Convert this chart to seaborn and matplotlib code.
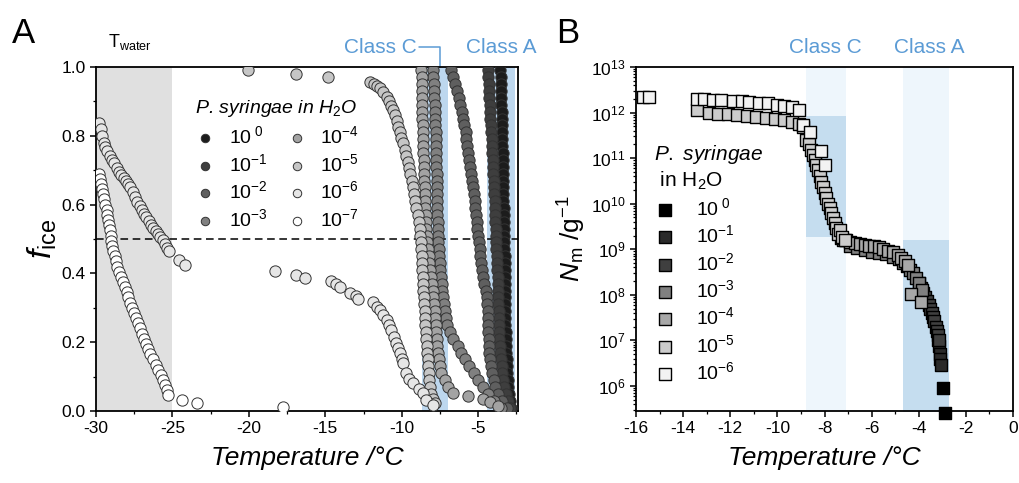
import matplotlib
matplotlib.use("Agg")
import matplotlib.pyplot as plt
import seaborn as sns
from matplotlib.ticker import MultipleLocator, LogLocator, LogFormatterMathtext, NullFormatter

sns.set_style("ticks")
plt.rcParams['font.family'] = ['Liberation Sans', 'DejaVu Sans']
plt.rcParams['mathtext.fontset'] = 'custom'
plt.rcParams['mathtext.rm'] = 'Liberation Sans'
plt.rcParams['mathtext.it'] = 'Liberation Sans:italic'
plt.rcParams['mathtext.bf'] = 'Liberation Sans:bold'
plt.rcParams['axes.unicode_minus'] = False
plt.rcParams['text.color'] = 'black'
plt.rcParams['axes.labelcolor'] = 'black'
plt.rcParams['xtick.color'] = 'black'
plt.rcParams['ytick.color'] = 'black'

# ---------------- panel A data: frozen fraction vs temperature ----------------
F_GRID = [0.99, 0.97, 0.95, 0.93, 0.91, 0.89, 0.87, 0.85, 0.83, 0.81,
          0.79, 0.77, 0.75, 0.73, 0.71, 0.69, 0.67, 0.65, 0.63, 0.61,
          0.59, 0.57, 0.55, 0.53, 0.51, 0.49, 0.47, 0.45, 0.43, 0.41,
          0.39, 0.37, 0.35, 0.33, 0.31, 0.29, 0.27, 0.25, 0.23, 0.21,
          0.19, 0.17, 0.15, 0.13, 0.11, 0.09, 0.07, 0.05, 0.03, 0.01]

T_A_0 = [-3.55, -3.54, -3.52, -3.51, -3.49, -3.48, -3.46, -3.45, -3.44, -3.43,
         -3.42, -3.42, -3.41, -3.40, -3.39, -3.38, -3.38, -3.37, -3.36, -3.35,
         -3.34, -3.33, -3.32, -3.31, -3.30, -3.30, -3.29, -3.28, -3.28, -3.27,
         -3.26, -3.26, -3.25, -3.25, -3.24, -3.24, -3.23, -3.22, -3.21, -3.20,
         -3.19, -3.17, -3.15, -3.13, -3.11, -3.08, -3.05, -3.00, -2.93, -2.83]
F_A_0 = F_GRID

T_A_1 = [-4.35, -4.33, -4.31, -4.29, -4.27, -4.25, -4.23, -4.20, -4.18, -4.15,
         -4.13, -4.11, -4.09, -4.06, -4.04, -4.01, -3.99, -3.97, -3.95, -3.93,
         -3.92, -3.90, -3.89, -3.87, -3.86, -3.84, -3.81, -3.79, -3.77, -3.75,
         -3.73, -3.71, -3.70, -3.69, -3.68, -3.66, -3.65, -3.64, -3.62, -3.61,
         -3.59, -3.55, -3.51, -3.47, -3.42, -3.37, -3.30, -3.20, -3.06, -2.90]
F_A_1 = F_GRID

T_A_2 = [-6.75, -6.62, -6.50, -6.38, -6.27, -6.17, -6.07, -5.98, -5.90, -5.83,
         -5.77, -5.72, -5.67, -5.62, -5.55, -5.47, -5.40, -5.34, -5.28, -5.23,
         -5.18, -5.14, -5.10, -5.05, -5.01, -4.96, -4.91, -4.86, -4.80, -4.74,
         -4.67, -4.60, -4.52, -4.45, -4.42, -4.39, -4.37, -4.35, -4.33, -4.31,
         -4.29, -4.27, -4.24, -4.18, -4.10, -4.00, -3.88, -3.70, -3.45, -3.10]
F_A_2 = F_GRID

T_A_3 = [-7.95, -7.93, -7.91, -7.89, -7.87, -7.85, -7.83, -7.82, -7.80, -7.79,
         -7.78, -7.77, -7.76, -7.75, -7.74, -7.73, -7.72, -7.71, -7.70, -7.69,
         -7.68, -7.67, -7.66, -7.65, -7.64, -7.62, -7.59, -7.55, -7.51, -7.47,
         -7.43, -7.39, -7.35, -7.30, -7.25, -7.19, -7.12, -7.02, -6.85, -6.62,
         -6.35, -6.12, -5.88, -5.60, -5.30, -5.01, -4.72, -4.35, -3.95, -3.50]
F_A_3 = F_GRID

T_A_4 = [-8.72, -8.71, -8.70, -8.69, -8.68, -8.67, -8.66, -8.65, -8.64, -8.63,
         -8.62, -8.61, -8.60, -8.58, -8.57, -8.55, -8.53, -8.51, -8.49, -8.47,
         -8.45, -8.43, -8.41, -8.39, -8.36, -8.33, -8.29, -8.24, -8.19, -8.14,
         -8.09, -8.03, -7.97, -7.93, -7.89, -7.85, -7.82, -7.79, -7.75, -7.72,
         -7.68, -7.63, -7.57, -7.50, -7.43,
         -7.20, -6.95, -6.64, -5.67, -4.69, -4.25, -3.70]
F_A_4 = F_GRID[:45] + [0.090, 0.070, 0.051, 0.044, 0.034, 0.027, 0.015]

T_A_5 = [-20.07, -16.90, -14.84, -12.10, -11.85, -11.60, -11.40, -11.20, -11.00, -10.85,
         -10.70, -10.57, -10.45, -10.34, -10.24, -10.12, -10.02, -9.92, -9.82, -9.72,
         -9.62, -9.53, -9.44, -9.35, -9.27, -9.19, -9.11, -9.04, -8.97, -8.90,
         -8.84, -8.79, -8.76, -8.73, -8.71, -8.68, -8.66, -8.64, -8.62, -8.60,
         -8.57, -8.54, -8.51, -8.48, -8.45, -8.42, -8.39, -8.36, -8.33, -8.30,
         -8.27, -8.24, -8.21, -8.17, -8.10, -7.98, -7.84]
F_A_5 = [0.990, 0.980, 0.970, 0.957, 0.952, 0.946, 0.938, 0.928, 0.914, 0.900,
         0.887, 0.875, 0.860, 0.843, 0.826, 0.810, 0.794, 0.778, 0.760, 0.742,
         0.724, 0.706, 0.688, 0.670, 0.650, 0.630, 0.610, 0.590, 0.570, 0.550,
         0.530, 0.510, 0.490, 0.470, 0.450, 0.430, 0.410, 0.390, 0.370, 0.350,
         0.330, 0.310, 0.290, 0.270, 0.250, 0.230, 0.210, 0.190, 0.170, 0.150,
         0.130, 0.110, 0.090, 0.070, 0.050, 0.035, 0.023]

T_A_6 = [-29.78, -29.70, -29.60, -29.50, -29.38, -29.25, -29.10, -28.95, -28.80, -28.65,
         -28.50, -28.35, -28.20, -28.05, -27.90, -27.75, -27.60, -27.45, -27.30, -27.15,
         -27.00, -26.85, -26.70, -26.55, -26.40, -26.25, -26.10, -25.95, -25.80, -25.65,
         -25.50, -25.35, -25.25, -24.55, -24.20, -18.30, -16.90, -16.35, -14.60, -14.30,
         -14.05, -13.40, -13.00, -12.85, -11.87, -11.60, -11.44, -11.20, -11.00, -10.85,
         -10.68, -10.50, -10.35, -10.25, -10.13, -10.00, -9.90, -9.70, -9.50, -9.26,
         -8.90, -8.60, -8.39, -7.95]
F_A_6 = [0.836, 0.820, 0.800, 0.778, 0.766, 0.755, 0.740, 0.730, 0.720, 0.706,
         0.695, 0.686, 0.678, 0.668, 0.659, 0.650, 0.637, 0.622, 0.608, 0.596,
         0.585, 0.574, 0.563, 0.552, 0.541, 0.532, 0.522, 0.514, 0.506, 0.497,
         0.486, 0.474, 0.466, 0.439, 0.424, 0.408, 0.395, 0.388, 0.378, 0.370,
         0.361, 0.344, 0.333, 0.326, 0.316, 0.303, 0.294, 0.280, 0.265, 0.250,
         0.235, 0.215, 0.197, 0.183, 0.168, 0.152, 0.139, 0.110, 0.094, 0.080,
         0.064, 0.051, 0.032, 0.017]

T_A_7 = [-29.78, -29.72, -29.65, -29.58, -29.52, -29.46, -29.39, -29.31, -29.25, -29.20,
         -29.15, -29.10, -29.05, -29.00, -28.93, -28.86, -28.79, -28.72, -28.65, -28.50,
         -28.38, -28.24, -28.12, -28.00, -27.90, -27.80, -27.66, -27.52, -27.38, -27.25,
         -27.12, -26.98, -26.84, -26.70, -26.57, -26.44, -26.28, -26.10, -25.93, -25.78,
         -25.62, -25.47, -25.35, -25.27, -24.36, -23.42, -17.76]
F_A_7 = [0.690, 0.675, 0.660, 0.645, 0.630, 0.615, 0.600, 0.585, 0.570, 0.555,
         0.540, 0.525, 0.510, 0.495, 0.480, 0.465, 0.450, 0.435, 0.420, 0.405,
         0.390, 0.375, 0.360, 0.345, 0.330, 0.315, 0.300, 0.285, 0.270, 0.255,
         0.240, 0.225, 0.210, 0.195, 0.180, 0.165, 0.150, 0.135, 0.120, 0.105,
         0.090, 0.075, 0.060, 0.047, 0.032, 0.022, 0.012]

LABELS_A = [r"10$^{\ 0}$", r"10$^{-1}$", r"10$^{-2}$", r"10$^{-3}$",
            r"10$^{-4}$", r"10$^{-5}$", r"10$^{-6}$", r"10$^{-7}$"]
COLORS_A = ["#1c1c1c", "#3e3e3e", "#5f5f5f", "#808080",
            "#a3a3a3", "#c6c6c6", "#e6e6e6", "#ffffff"]

# ---------------- panel B data: INP spectra ----------------
T_B_0 = [-2.98, -2.88]
N_B_0 = [9.0e5, 2.6e5]
T_B_1 = [-3.20, -3.15, -3.11, -3.08, -3.05]
N_B_1 = [1.0e7, 7.4e6, 5.0e6, 4.0e6, 2.9e6]
T_B_2 = [-4.00, -3.90, -3.80, -3.72, -3.65, -3.58, -3.51, -3.45, -3.40, -3.34,
         -3.28, -3.23, -3.19, -3.14]
N_B_2 = [1.8e8, 1.4e8, 1.1e8, 8.9e7, 7.2e7, 5.9e7, 5.0e7, 4.0e7, 3.3e7, 2.6e7,
         2.0e7, 1.6e7, 1.3e7, 1.0e7]
T_B_3 = [-7.20, -6.90, -6.60, -6.30, -6.00, -5.70, -5.40, -5.10, -4.85, -4.67,
         -4.50, -4.39, -4.25, -4.10, -3.97, -3.85]
N_B_3 = [1.6e9, 1.2e9, 1.05e9, 9.5e8, 8.9e8, 8.3e8, 7.8e8, 6.9e8, 6.0e8, 4.9e8,
         4.2e8, 3.5e8, 3.0e8, 2.3e8, 1.8e8, 1.3e8]
T_B_4 = [-7.30, -7.10, -6.90, -6.70, -6.50, -6.30, -6.10, -5.90, -5.70, -5.50,
         -5.30, -5.10, -4.90, -4.75, -4.60, -4.45, -4.32, -3.90]
N_B_4 = [1.8e9, 1.6e9, 1.45e9, 1.35e9, 1.3e9, 1.25e9, 1.2e9, 1.15e9, 1.1e9, 1.0e9,
         9.2e8, 8.5e8, 7.5e8, 6.5e8, 5.5e8, 4.5e8, 1.05e8, 7.0e7]
T_B_5 = [-13.40, -12.90, -12.50, -12.10, -11.70, -11.30, -10.90, -10.50, -10.10, -9.70,
         -9.40, -9.10, -8.90, -8.77, -8.65, -8.56, -8.48, -8.42, -8.34, -8.27,
         -8.20, -8.13, -8.06, -7.99, -7.92, -7.85, -7.78, -7.71, -7.64, -7.57,
         -7.50, -7.43, -7.36, -7.25, -7.14]
N_B_5 = [1.15e12, 1.0e12, 9.5e11, 9.1e11, 8.7e11, 8.3e11, 7.9e11, 7.6e11, 7.2e11, 6.8e11,
         6.3e11, 5.6e11, 4.8e11, 2.5e11, 2.0e11, 1.5e11, 1.2e11, 9.1e10, 7.1e10, 5.5e10,
         4.1e10, 3.0e10, 2.3e10, 1.7e10, 1.3e10, 1.0e10, 7.9e9, 6.2e9, 4.8e9, 3.7e9,
         2.9e9, 2.2e9, 2.7e9, 1.9e9, 1.6e9]
T_B_6 = [-15.70, -15.45, -13.40, -13.10, -12.75, -12.40, -11.90, -11.50, -11.20, -10.80,
         -10.40, -10.00, -9.70, -9.40, -9.10, -8.92, -8.63, -8.13, -7.99]
N_B_6 = [2.2e12, 2.2e12, 2.0e12, 1.95e12, 1.9e12, 1.85e12, 1.8e12, 1.75e12, 1.7e12, 1.65e12,
         1.6e12, 1.5e12, 1.4e12, 1.3e12, 1.15e12, 5.4e11, 3.8e11, 1.4e11, 7.0e10]

LABELS_B = LABELS_A[:7]
COLORS_B = ["#000000", "#2a2a2a", "#3f3f3f", "#808080", "#a8a8a8", "#cccccc", "#f2f2f2"]

# shaded temperature ranges
T_WATER = (-30, -25)
CLASS_C_A = (-8.7, -7.0)
CLASS_A_A = (-4.4, -2.6)
CLASS_C_B = (-8.8, -7.1)
CLASS_A_B = (-4.65, -2.7)
CLASS_C_B_N = (1.9e9, 8.5e11)
CLASS_A_B_N = (1e5, 1.6e9)

BLUE = "#5b9bd5"

fig = plt.figure(figsize=(10.19, 4.83), dpi=100)
axA = fig.add_axes([96 / 1019, 1 - 411 / 483, 422 / 1019, 344 / 483])
axB = fig.add_axes([636 / 1019, 1 - 411 / 483, 377 / 1019, 344 / 483])

# ---------------- panel A ----------------
axA.axvspan(*T_WATER, color="#e0e0e0", lw=0, zorder=0)
axA.axvspan(*CLASS_C_A, color="#bdd7ee", lw=0, zorder=0)
axA.axvspan(*CLASS_A_A, color="#bdd7ee", lw=0, zorder=0)
axA.axhline(0.5, color="black", ls=(0, (5, 3)), lw=1.1, zorder=1)

series_A = [(T_A_0, F_A_0), (T_A_1, F_A_1), (T_A_2, F_A_2), (T_A_3, F_A_3),
            (T_A_4, F_A_4), (T_A_5, F_A_5), (T_A_6, F_A_6), (T_A_7, F_A_7)]
for (t, f), lab, col in zip(series_A, LABELS_A, COLORS_A):
    sns.scatterplot(x=t, y=f, ax=axA, color=col, edgecolor="#333333", linewidth=0.7,
                    s=66, marker="o", label=lab, zorder=3)

axA.set_xlim(-30, -2.4)
axA.set_ylim(0, 1)
axA.xaxis.set_major_locator(MultipleLocator(5))
axA.xaxis.set_minor_locator(MultipleLocator(2.5))
axA.yaxis.set_major_locator(MultipleLocator(0.2))
axA.yaxis.set_minor_locator(MultipleLocator(0.1))
axA.yaxis.set_major_formatter(plt.FuncFormatter(lambda v, p: f"{v:.1f}"))
axA.set_xlabel("Temperature /°C", fontsize=19, fontstyle="italic", labelpad=7)
axA.set_ylabel(r"$\mathit{f}_{\rm ice}$", fontsize=24, labelpad=2)

legA = axA.legend(title="P. syringae in H$_2$O", ncol=2, loc="upper left",
                  bbox_to_anchor=(0.19, 0.96), frameon=False, fontsize=14,
                  title_fontproperties={"size": 14, "style": "italic"},
                  markerscale=0.75, handletextpad=0.6, columnspacing=0.9,
                  labelspacing=0.3, handlelength=1.2)

axA.text(-29.2, 1.045, r"T$_{\rm water}$", fontsize=13, ha="left", va="bottom",
         transform=axA.get_xaxis_transform())
axA.text(-9.0, 1.058, "Class C", color=BLUE, fontsize=15, ha="right", va="center",
         transform=axA.get_xaxis_transform())
axA.plot([-8.85, -7.5, -7.5], [1.058, 1.058, 1.0], color=BLUE, lw=1.1, clip_on=False,
         transform=axA.get_xaxis_transform())
axA.text(-3.5, 1.058, "Class A", color=BLUE, fontsize=15, ha="center", va="center",
         transform=axA.get_xaxis_transform())

# ---------------- panel B ----------------
axB.axvspan(*CLASS_C_B, color="#eef6fc", lw=0, zorder=0)
axB.axvspan(*CLASS_A_B, color="#eef6fc", lw=0, zorder=0)
axB.fill_between(CLASS_C_B, *CLASS_C_B_N, color="#c5ddef", lw=0, zorder=0.5)
axB.fill_between(CLASS_A_B, *CLASS_A_B_N, color="#c5ddef", lw=0, zorder=0.5)

series_B = [(T_B_0, N_B_0), (T_B_1, N_B_1), (T_B_2, N_B_2), (T_B_3, N_B_3),
            (T_B_4, N_B_4), (T_B_5, N_B_5), (T_B_6, N_B_6)]
for (t, n), lab, col in zip(series_B, LABELS_B, COLORS_B):
    sns.scatterplot(x=t, y=n, ax=axB, color=col, edgecolor="black", linewidth=1.0,
                    s=66, marker="s", label=lab, zorder=3, clip_on=False)

axB.set_yscale("log")
axB.set_xlim(-16, 0)
axB.set_ylim(10 ** 5.45, 1e13)
axB.xaxis.set_major_locator(MultipleLocator(2))
axB.xaxis.set_minor_locator(MultipleLocator(1))
axB.yaxis.set_major_locator(LogLocator(base=10, numticks=20))
axB.yaxis.set_major_formatter(LogFormatterMathtext())
axB.yaxis.set_minor_locator(LogLocator(base=10, subs=range(2, 10), numticks=20))
axB.yaxis.set_minor_formatter(NullFormatter())
axB.set_xlabel("Temperature /°C", fontsize=19, fontstyle="italic", labelpad=7)
axB.set_ylabel(r"$\mathit{N}_{\rm m}$ /g$^{-1}$", fontsize=19, labelpad=2)

legB = axB.legend(title=r"$\mathit{P.\ syringae}$" + "\n in H$_2$O", loc="upper left",
                  bbox_to_anchor=(0.0, 0.83), frameon=False, fontsize=14,
                  title_fontproperties={"size": 15}, alignment="left",
                  handletextpad=1.0, labelspacing=0.28, handlelength=1.2)

axB.text(-7.95, 1.058, "Class C", color=BLUE, fontsize=15, ha="center", va="center",
         transform=axB.get_xaxis_transform())
axB.text(-3.55, 1.058, "Class A", color=BLUE, fontsize=15, ha="center", va="center",
         transform=axB.get_xaxis_transform())

for ax in (axA, axB):
    for sp in ax.spines.values():
        sp.set_visible(True)
        sp.set_color("black")
        sp.set_linewidth(1.3)
    ax.tick_params(which="major", direction="out", length=4.5, width=1.1,
                   labelsize=12.5, colors="black", pad=3)
    ax.tick_params(which="minor", direction="out", length=2.5, width=0.9, colors="black")
    ax.set_facecolor("white")

fig.text(0.012, 0.93, "A", fontsize=25, va="center", ha="left")
fig.text(0.546, 0.93, "B", fontsize=25, va="center", ha="left")

fig.savefig("out.png", dpi=100)
